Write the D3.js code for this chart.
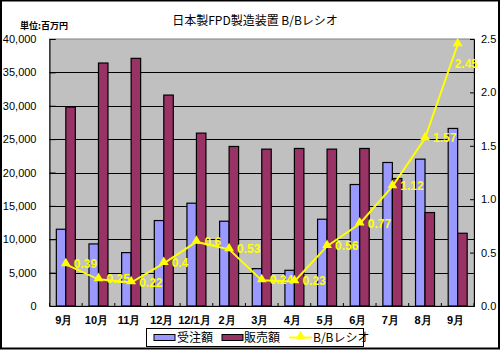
<!DOCTYPE html>
<html><head><meta charset="utf-8">
<script src="https://cdn.jsdelivr.net/npm/d3@7"></script>
<style>
html,body{margin:0;padding:0;background:#fff;}
svg{display:block;font-family:"Liberation Sans",Arial,sans-serif;}
</style></head>
<body>
<svg id="c" width="500" height="350"></svg>
<script>
const categories = ["9月","10月","11月","12月","12/1月","2月","3月","4月","5月","6月","7月","8月","9月"];
const orders = [11500, 9300, 8000, 12800, 15400, 12700, 5600, 5350, 13000, 18200, 21500, 22000, 26600];
const sales = [29800, 36400, 37100, 31600, 25900, 23900, 23500, 23600, 23500, 23600, 19100, 14000, 10900];
const ratio = [0.39, 0.25, 0.22, 0.4, 0.6, 0.53, 0.24, 0.23, 0.56, 0.77, 1.12, 1.57, 2.45];
const leftTicks = [0, 5000, 10000, 15000, 20000, 25000, 30000, 35000, 40000];
const rightTicks = [0, 0.5, 1.0, 1.5, 2.0, 2.5];
const seriesNames = ["受注額", "販売額", "B/Bレシオ"];
const title = "日本製FPD製造装置 B/Bレシオ";
const unitLabel = "単位:百万円";

const svg = d3.select("#c");
const L = 49.5, R = 474, T = 39, B = 306;
const colors = {"受注額": "#9999ff", "販売額": "#993366"};

// outer frame
svg.append("rect").attr("x", 1).attr("y", 0.5).attr("width", 498).attr("height", 348)
  .attr("fill", "#fff").attr("stroke", "#000").attr("stroke-width", 2);

const x = d3.scaleBand().domain(d3.range(categories.length)).range([L, R]).padding(0);
const xs = d3.scaleBand().domain(["受注額", "販売額"]).range([0, x.bandwidth()]).paddingInner(0).paddingOuter(0.72);
const y = d3.scaleLinear().domain([0, 40000]).range([B, T]);
const y2 = d3.scaleLinear().domain([0, 2.5]).range([B, T]);

// plot background
svg.append("rect").attr("x", L).attr("y", T).attr("width", R - L).attr("height", B - T)
  .attr("fill", "#c0c0c0").attr("stroke", "#808080").attr("stroke-width", 1);

// gridlines
svg.append("g").selectAll("line").data(leftTicks.filter(d => d > 0 && d < 40000)).join("line")
  .attr("x1", L).attr("x2", R).attr("y1", d => Math.round(y(d)) + 0.5).attr("y2", d => Math.round(y(d)) + 0.5)
  .attr("stroke", "#000").attr("stroke-width", 1);

// bars
const barData = [];
categories.forEach((c, i) => {
  barData.push({i, s: "受注額", v: orders[i]});
  barData.push({i, s: "販売額", v: sales[i]});
});
svg.append("g").selectAll("rect").data(barData).join("rect")
  .attr("x", d => x(d.i) + xs(d.s))
  .attr("y", d => y(d.v))
  .attr("width", xs.bandwidth())
  .attr("height", d => B - y(d.v))
  .attr("fill", d => colors[d.s])
  .attr("stroke", "#000").attr("stroke-width", 1.2);

// axes
const yAxis = d3.axisLeft(y).tickValues(leftTicks).tickSize(-6).tickPadding(13).tickFormat(d3.format(","));
const gl = svg.append("g").attr("transform", `translate(${L},0)`).call(yAxis);
gl.select(".domain").attr("stroke", "#000");
gl.selectAll("text").attr("font-size", 11).attr("fill", "#000");

const yAxis2 = d3.axisRight(y2).tickValues(rightTicks).tickSize(-4).tickPadding(7).tickFormat(d3.format(".1f"));
const gr = svg.append("g").attr("transform", `translate(${R},0)`).call(yAxis2);
gr.select(".domain").attr("stroke", "#000");
gr.selectAll("text").attr("font-size", 11).attr("fill", "#000");

const xAxis = d3.axisBottom(x).tickFormat(i => categories[i]).tickSize(0).tickPadding(10);
const gx = svg.append("g").attr("transform", `translate(0,${B})`).call(xAxis);
gx.select(".domain").attr("stroke", "#000");
gx.selectAll("text").attr("font-size", 11).attr("fill", "#000").attr("font-weight", "bold").attr("dx", -2);
// boundary ticks
svg.append("g").selectAll("line").data(d3.range(categories.length + 1)).join("line")
  .attr("x1", i => (i < categories.length ? x(i) : R)).attr("x2", i => (i < categories.length ? x(i) : R))
  .attr("y1", B).attr("y2", B - 3).attr("stroke", "#000");

// ratio line
const cx = i => x(i) + x.bandwidth() / 2;
const line = d3.line().x((d, i) => cx(i)).y(d => y2(d));
svg.append("path").datum(ratio).attr("d", line).attr("fill", "none")
  .attr("stroke", "#ffff00").attr("stroke-width", 2);

// labels: right of the point; if it would spill past the plot, tuck it below
const labelW = 24;
svg.append("g").selectAll("text").data(ratio).join("text")
  .attr("x", (d, i) => cx(i) + 8 + labelW > R ? cx(i) - 3 : cx(i) + 8)
  .attr("y", (d, i) => cx(i) + 8 + labelW > R ? y2(d) + 24 : y2(d) + 4)
  .attr("font-size", 12).attr("font-weight", "bold").attr("fill", "#ffff00")
  .text(d => String(d));

const tri = d3.symbol().type(d3.symbolTriangle).size(42);
svg.append("g").selectAll("path").data(ratio).join("path")
  .attr("transform", (d, i) => `translate(${cx(i)},${y2(d) - 1})`)
  .attr("d", tri).attr("fill", "#ffff00");

// title
svg.append("text").attr("x", 255).attr("y", 25).attr("text-anchor", "middle")
  .attr("font-size", 12).attr("font-family", "'Noto Sans CJK JP', sans-serif").text(title);
svg.append("text").attr("x", 20).attr("y", 29)
  .attr("font-size", 9).attr("font-weight", "bold").attr("font-family", "'Noto Sans CJK JP', sans-serif").text(unitLabel);

// legend
const lg = svg.append("g");
lg.append("rect").attr("x", 146.5).attr("y", 328.5).attr("width", 217).attr("height", 18)
  .attr("fill", "#fff").attr("stroke", "#000").attr("stroke-width", 1);
const legendItems = [
  {name: seriesNames[0], sx: 154, tx: 177},
  {name: seriesNames[1], sx: 222, tx: 244},
  {name: seriesNames[2], sx: 289, tx: 313}
];
legendItems.forEach((it, k) => {
  if (k < 2) {
    lg.append("rect").attr("x", it.sx).attr("y", 334.5).attr("width", 21).attr("height", 6)
      .attr("fill", colors[it.name]).attr("stroke", "#000").attr("stroke-width", 1);
  } else {
    lg.append("line").attr("x1", it.sx).attr("x2", it.sx + 23).attr("y1", 337.5).attr("y2", 337.5)
      .attr("stroke", "#ffff00").attr("stroke-width", 2);
    lg.append("path").attr("transform", `translate(${it.sx + 11.5},336.5)`).attr("d", tri).attr("fill", "#ffff00");
  }
  lg.append("text").attr("x", it.tx).attr("y", 342).attr("font-size", 12)
    .attr("font-family", "'Noto Sans CJK JP', sans-serif").text(it.name);
});
</script>
</body></html>
